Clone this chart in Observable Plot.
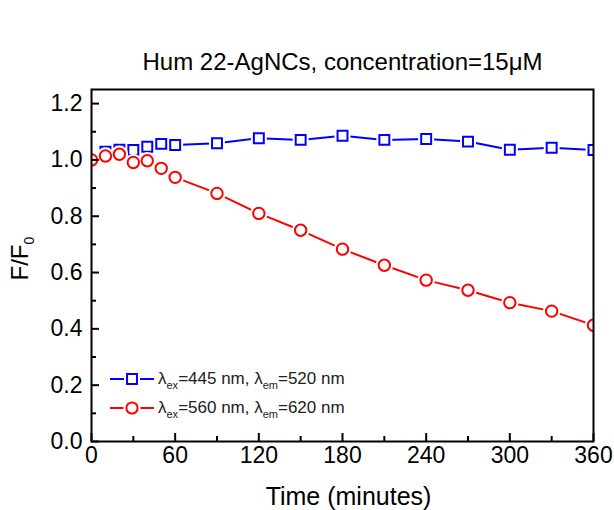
<!DOCTYPE html>
<html><head><meta charset="utf-8">
<script src="https://cdn.jsdelivr.net/npm/d3@7"></script>
<script src="https://cdn.jsdelivr.net/npm/@observablehq/plot@0.6"></script>
<style>
body{margin:0;background:#fff}
#wrap{position:relative;width:614px;height:510px;font-family:"Liberation Sans",Arial,sans-serif}
#legend{position:absolute;left:110px;top:364px;font-size:17px;color:#222}
#legend .row{display:flex;align-items:center;white-space:nowrap;height:29px}
#legend sub{font-size:11px;vertical-align:-5px;line-height:0}
#legend svg{margin-right:4px}
</style>
</head><body><div id="wrap"><div id="chart"></div><div id="legend"></div></div>
<script>
const times = [0,10,20,30,40,50,60,90,120,150,180,210,240,270,300,330,360];
const blueValues = [1.000,1.029,1.036,1.035,1.047,1.057,1.053,1.059,1.077,1.071,1.086,1.071,1.074,1.065,1.036,1.043,1.035];
const redValues  = [1.000,1.014,1.020,0.991,0.997,0.970,0.938,0.881,0.810,0.750,0.683,0.626,0.573,0.537,0.493,0.463,0.413];
const seriesNames = ["λ_{ex}=445 nm, λ_{em}=520 nm", "λ_{ex}=560 nm, λ_{em}=620 nm"];
const seriesColors = ["#0000ff", "#ff0000"];
const seriesSymbols = ["square", "circle"];
const xMajor = [0,60,120,180,240,300,360];
const xMinor = [30,90,150,210,270,330];
const yMajor = [0,0.2,0.4,0.6,0.8,1.0,1.2];
const yMinor = [0.1,0.3,0.5,0.7,0.9,1.1];
const yTickLabels = ["0.0","0.2","0.4","0.6","0.8","1.0","1.2"];
const titleText = "Hum 22-AgNCs, concentration=15μM";
const xLabel = "Time (minutes)";
const yLabel = "F/F_{0}";

const blueRows = times.map((t,i)=>({t, v: blueValues[i]}));
const redRows = times.map((t,i)=>({t, v: redValues[i]}));

const font = '"Liberation Sans", Arial, sans-serif';
const halo = (rows, sym, r) => Plot.dot(rows, {x: "t", y: "v", symbol: sym, r, stroke: "#fff", fill: "#fff", strokeWidth: 6, clip: true});
const plot = Plot.plot({
  width: 614, height: 510,
  marginTop: 89, marginRight: 21, marginBottom: 69, marginLeft: 91,
  style: {fontFamily: font, color: "#000", background: "#fff", overflow: "visible"},
  x: {domain: [0, 360]},
  y: {domain: [0, 1.25]},
  marks: [
    Plot.line(blueRows, {x: "t", y: "v", stroke: seriesColors[0], strokeWidth: 2, clip: true}),
    halo(blueRows, seriesSymbols[0], 5.6),
    Plot.dot(blueRows, {x: "t", y: "v", symbol: seriesSymbols[0], r: 5.6, stroke: seriesColors[0], fill: "#fff", strokeWidth: 2, clip: true}),
    Plot.line(redRows, {x: "t", y: "v", stroke: seriesColors[1], strokeWidth: 2, clip: true}),
    halo(redRows, seriesSymbols[1], 5.7),
    Plot.dot(redRows, {x: "t", y: "v", symbol: seriesSymbols[1], r: 5.7, stroke: seriesColors[1], fill: "#fff", strokeWidth: 2, clip: true}),
    Plot.frame({stroke: "#000", strokeWidth: 2}),
    Plot.axisX(xMajor, {tickSize: -8, tickFormat: () => "", label: null, strokeWidth: 2}),
    Plot.axisX(xMinor, {tickSize: -5, tickFormat: () => "", label: null, strokeWidth: 2}),
    Plot.axisX(xMajor, {tickSize: 0, tickPadding: 5, label: null, fontSize: 23, fill: "#000"}),
    Plot.axisY(yMajor, {tickSize: -8, tickFormat: () => "", label: null, strokeWidth: 2}),
    Plot.axisY(yMinor, {tickSize: -5, tickFormat: () => "", label: null, strokeWidth: 2}),
    Plot.axisY(yMajor, {tickSize: 0, tickPadding: 9, label: null, fontSize: 23, fill: "#000", tickFormat: (d, i) => yTickLabels[i]}),
    Plot.text([titleText], {frameAnchor: "top", dy: -27, lineAnchor: "middle", fontSize: 24, fill: "#000"}),
    Plot.text([xLabel], {frameAnchor: "bottom", dx: 6, dy: 55, lineAnchor: "middle", fontSize: 25, fill: "#000"}),
    Plot.text([yLabel], {frameAnchor: "left", dx: -71, dy: 15, rotate: -90, lineAnchor: "middle", fontSize: 24, fill: "#000"})
  ]
});
document.getElementById("chart").append(plot);

// subscript markup _{...} -> tspans
d3.select(plot).selectAll("text").each(function() {
  const el = this;
  const s = el.textContent;
  if (!s.includes("_{")) return;
  const fs = parseFloat(el.getAttribute("font-size")) || 23;
  while (el.firstChild) el.removeChild(el.firstChild);
  const parts = s.split(/(_\{[^}]*\})/);
  parts.forEach(p => {
    if (!p) return;
    const t = document.createElementNS("http://www.w3.org/2000/svg", "tspan");
    if (p.startsWith("_{")) {
      t.textContent = p.slice(2, -1);
      t.setAttribute("font-size", fs * 0.6);
      t.setAttribute("dy", fs * 0.25);
    } else {
      t.textContent = p;
      if (el.childNodes.length) t.setAttribute("dy", -fs * 0.25);
    }
    el.appendChild(t);
  });
});

// legend
const legend = d3.select("#legend");
seriesNames.forEach((name, i) => {
  const row = legend.append("div").attr("class", "row");
  const svg = row.append("svg").attr("width", 44).attr("height", 16);
  svg.append("line").attr("x1", 0).attr("x2", 44).attr("y1", 8).attr("y2", 8)
    .attr("stroke", seriesColors[i]).attr("stroke-width", 2);
  const sym = seriesSymbols[i] === "square" ? d3.symbolSquare : d3.symbolCircle;
  const d = d3.symbol(sym, Math.PI * 5.6 * 5.6)();
  svg.append("path").attr("transform", "translate(22,8)").attr("d", d)
    .attr("fill", "#fff").attr("stroke", "#fff").attr("stroke-width", 6);
  svg.append("path").attr("transform", "translate(22,8)").attr("d", d)
    .attr("fill", "#fff").attr("stroke", seriesColors[i]).attr("stroke-width", 2);
  row.append("span").html(name.replace(/_\{([^}]*)\}/g, "<sub>$1</sub>"));
});
</script>
</body></html>
